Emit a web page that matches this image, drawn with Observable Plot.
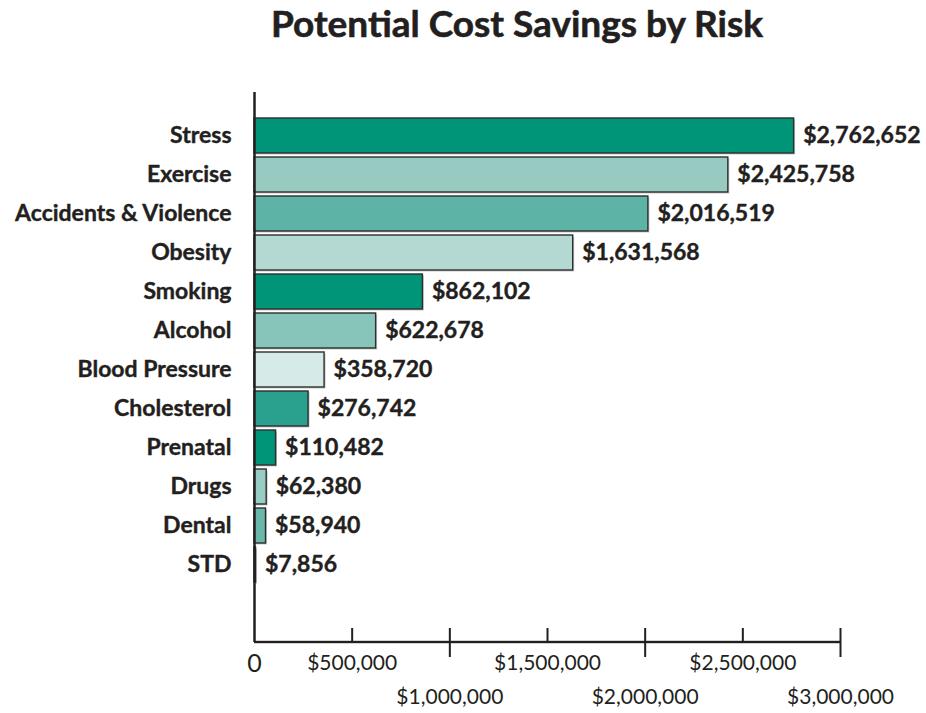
<!DOCTYPE html>
<html>
<head>
<meta charset="utf-8">
<script src="https://cdn.jsdelivr.net/npm/d3@7"></script>
<script src="https://cdn.jsdelivr.net/npm/@observablehq/plot@0.6"></script>
<style>
  html, body { margin: 0; padding: 0; background: #fff; }
  #title {
    height: 78px; box-sizing: border-box;
    padding-left: 108px; padding-top: 3px;
    text-align: center;
    font-family: Lato, "Open Sans", sans-serif; font-weight: bold;
    font-size: 37px; line-height: 40px; color: #231f20;
    -webkit-text-stroke: 0.6px #231f20;
  }
  svg { display: block; }
</style>
</head>
<body>
<div id="title">Potential Cost Savings by Risk</div>
<div id="chart"></div>
<script>
const categories = ["Stress", "Exercise", "Accidents & Violence", "Obesity", "Smoking", "Alcohol",
  "Blood Pressure", "Cholesterol", "Prenatal", "Drugs", "Dental", "STD"];
const values = [2762652, 2425758, 2016519, 1631568, 862102, 622678, 358720, 276742, 110482, 62380, 58940, 7856];
const colors = ["#009479", "#97cbc2", "#5db3a6", "#b4d9d2", "#009479", "#87c4b9",
  "#d6ebe7", "#2aa18f", "#009479", "#98cdc3", "#6ab8ab", "#00785f"];
const minorTicks = [500000, 1500000, 2500000];
const majorTicks = [1000000, 2000000, 3000000];
const topRowLabels = [0, 500000, 1500000, 2500000];
const bottomRowLabels = [1000000, 2000000, 3000000];
const axisMax = 3000000;

const data = categories.map((c, i) => ({category: c, value: values[i], color: colors[i]}));
const money = v => v === 0 ? "0" : "$" + d3.format(",")(v);
const ink = "#231f20";
const H = 635, MT = 14, MB = 71;
const frameH = H - MT - MB;

const chart = Plot.plot({
  width: 926,
  height: H,
  marginLeft: 254,
  marginRight: 86,
  marginTop: MT,
  marginBottom: MB,
  x: {domain: [0, axisMax], axis: null},
  y: {domain: categories, range: [37, 506.5], paddingInner: 0.11, paddingOuter: 0, axis: null},
  style: {fontFamily: "Lato, 'Open Sans', sans-serif", color: ink},
  marks: [
    Plot.barX(data, {x: "value", y: "category", fill: "#c8c8c8", dx: 1.5, dy: 1.5}),
    Plot.barX(data, {x: "value", y: "category", fill: "color", stroke: "#2e2e2e", strokeWidth: 1.4}),
    Plot.text(data, {x: "value", y: "category", text: d => money(d.value), textAnchor: "start", dx: 9,
      fontSize: 23, fontWeight: "bold", fill: ink, stroke: ink, strokeWidth: 0.4}),
    Plot.text(categories, {y: d => d, text: d => d, frameAnchor: "left", textAnchor: "end", dx: -23,
      fontSize: 23, fontWeight: "bold", fill: ink, stroke: ink, strokeWidth: 0.4}),
    Plot.ruleX([0], {x: d => d, stroke: ink, strokeWidth: 2.5}),
    Plot.rect([axisMax], {x1: () => 0, x2: d => d, insetTop: frameH - 1.2, insetBottom: -1.2, fill: ink}),
    Plot.ruleX(minorTicks, {x: d => d, insetTop: frameH - 14, stroke: ink, strokeWidth: 2}),
    Plot.ruleX(majorTicks, {x: d => d, insetTop: frameH - 14, insetBottom: -15, stroke: ink, strokeWidth: 2}),
    Plot.text(topRowLabels, {x: d => d, text: money, frameAnchor: "bottom", lineAnchor: "middle", dy: 21,
      fontSize: d => d === 0 ? 25 : 21, fill: ink}),
    Plot.text(bottomRowLabels, {x: d => d, text: money, frameAnchor: "bottom", lineAnchor: "middle", dy: 55, fontSize: 21, fill: ink})
  ]
});
document.getElementById("chart").appendChild(chart);
</script>
</body>
</html>
